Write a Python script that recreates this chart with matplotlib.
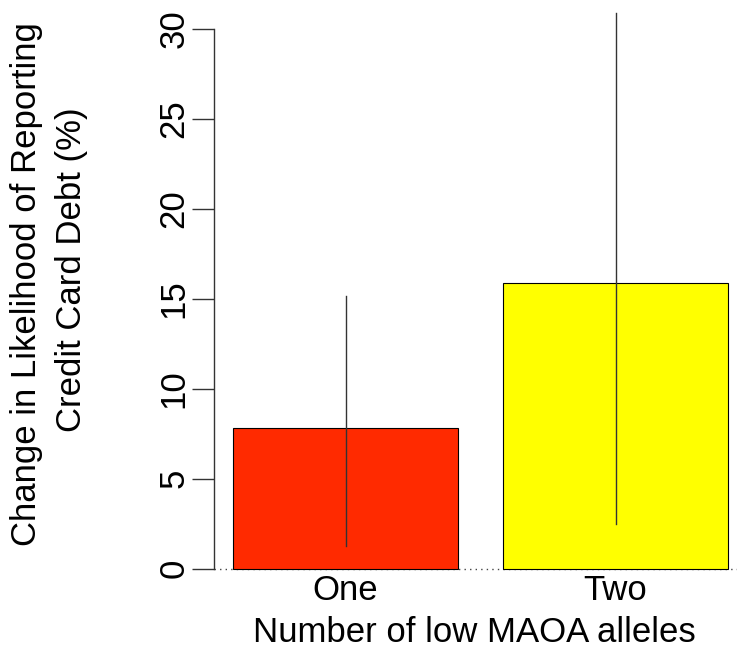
import matplotlib
matplotlib.use("Agg")
import matplotlib.pyplot as plt

categories = ["One", "Two"]
values = [7.82, 15.86]
err_low = [1.25, 2.47]
err_high = [15.15, 30.9]
yticks = [0, 5, 10, 15, 20, 25, 30]
colors = ["#ff2a00", "#ffff00"]

plt.rcParams['font.family'] = ['Liberation Sans', 'DejaVu Sans']

W, H = 737, 648
fig = plt.figure(figsize=(W/100, H/100), dpi=100)

# axes in pixel coords
ax_l, ax_r, ax_t, ax_b = 213.5, 737, 0, 574
ax = fig.add_axes([ax_l/W, 1-ax_b/H, (ax_r-ax_l)/W, (ax_b-ax_t)/H])

ppu = 17.98
y0px = 568.5
ax.set_ylim(-(ax_b - y0px)/ppu, (y0px - ax_t)/ppu)
xppu = 225
ax.set_xlim((ax_l-188)/xppu, (ax_r-188)/xppu)

centers = [0.7, 1.9]
ax.bar(centers, values, width=1.0, color=colors, edgecolor="black", linewidth=0.8, zorder=2)
for c, lo, hi in zip(centers, err_low, err_high):
    ax.plot([c, c], [lo, hi], color="#333333", linewidth=1.0, zorder=3)

ax.axhline(0, color="#444444", linestyle=(0, (1, 3)), linewidth=1.0, zorder=1)

for s in ["top", "right", "bottom"]:
    ax.spines[s].set_visible(False)
ax.spines["left"].set_bounds(0, 30)
ax.spines["left"].set_linewidth(1.0)
ax.spines["left"].set_color("#333333")

ax.set_yticks(yticks)
ax.set_yticklabels([str(t) for t in yticks], rotation=90, va="center", fontsize=25)
ax.tick_params(axis="y", length=15.5, width=1.0, color="#333333", pad=1)

ax.set_xticks(centers)
ax.set_xticklabels(categories, fontsize=25)
ax.tick_params(axis="x", length=0, pad=0)

fig.text(474/W, 1-632/H, "Number of low MAOA alleles", ha="center", va="center", fontsize=25)
fig.text(27/W, 1-284/H, "Change in Likelihood of Reporting", ha="center", va="center",
         rotation=90, fontsize=25)
fig.text(72/W, 1-270/H, "Credit Card Debt (%)", ha="center", va="center",
         rotation=90, fontsize=25)

fig.savefig("out.png", dpi=100)
